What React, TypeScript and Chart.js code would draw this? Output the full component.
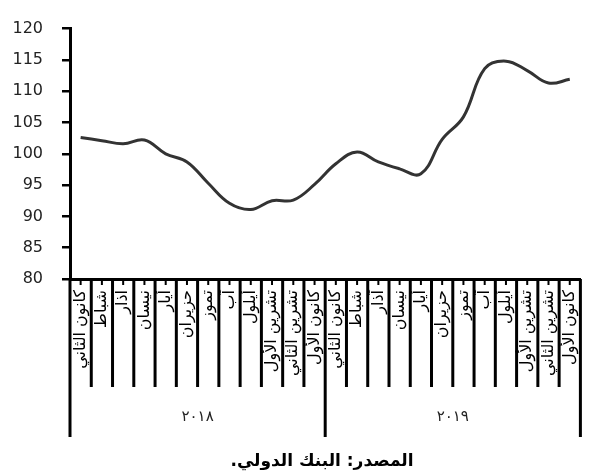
import React, { useEffect, useRef } from "react";
import { Chart, registerables } from "chart.js";

Chart.register(...registerables);

const months = [
  "كانون الثاني",
  "شباط",
  "آذار",
  "نيسان",
  "أيار",
  "حزيران",
  "تموز",
  "آب",
  "أيلول",
  "تشرين الأول",
  "تشرين الثاني",
  "كانون الأول",
];
const years = ["٢٠١٨", "٢٠١٩"];
const categories = [...months, ...months];
const values = [
  102.6, 102.1, 101.6, 102.2, 100.0, 98.7, 95.3, 92.1, 91.1, 92.5, 92.6, 95.1,
  98.4, 100.3, 98.7, 97.6, 96.8, 102.3, 105.9, 113.6, 114.8, 113.3, 111.3, 111.9,
];
const yMin = 80;
const yMax = 120;
const yStep = 5;
const sourceText = "المصدر: البنك الدولي.";

const decorPlugin = {
  id: "decor",
  afterDraw(chart: any) {
    const ctx = chart.ctx as CanvasRenderingContext2D;
    const xs = chart.scales.x;
    const bottom = chart.chartArea.bottom;
    const n = categories.length;
    const half = (xs.getPixelForTick(1) - xs.getPixelForTick(0)) / 2;
    ctx.save();
    ctx.strokeStyle = "#000";
    ctx.lineCap = "butt";
    for (let i = 0; i <= n; i++) {
      const x = i < n ? xs.getPixelForTick(i) - half : xs.getPixelForTick(n - 1) + half;
      const isYear = i % months.length === 0;
      ctx.lineWidth = 3;
      ctx.beginPath();
      ctx.moveTo(x, bottom);
      ctx.lineTo(x, bottom + (isYear ? 158 : 108));
      ctx.stroke();
    }
    ctx.lineWidth = 2;
    for (let i = 0; i < n; i++) {
      const x = xs.getPixelForTick(i);
      ctx.beginPath();
      ctx.moveTo(x, bottom);
      ctx.lineTo(x, bottom + 6);
      ctx.stroke();
    }
    ctx.fillStyle = "#222";
    ctx.textAlign = "center";
    ctx.textBaseline = "middle";
    ctx.font = '15px "DejaVu Sans"';
    years.forEach((y, g) => {
      const a = xs.getPixelForTick(g * months.length) - half;
      const b = xs.getPixelForTick(g * months.length + months.length - 1) + half;
      ctx.fillText(y, (a + b) / 2, bottom + 138);
    });
    ctx.fillStyle = "#000";
    (ctx as any).direction = "rtl";
    ctx.font = 'bold 17px "DejaVu Sans"';
    ctx.fillText(sourceText, 322, 462);
    ctx.restore();
  },
};

export default function App() {
  const ref = useRef<HTMLCanvasElement | null>(null);
  useEffect(() => {
    if (!ref.current) return;
    const chart = new Chart(ref.current, {
      type: "line",
      data: {
        labels: categories,
        datasets: [
          {
            data: values,
            borderColor: "#333333",
            borderWidth: 3,
            pointRadius: 0,
            tension: 0.4,
            fill: false,
          },
        ],
      },
      options: {
        responsive: false,
        animation: false,
        devicePixelRatio: 1,
        layout: { padding: { top: 18, right: 2, left: 0, bottom: 0 } },
        plugins: {
          legend: { display: false },
          tooltip: { enabled: false },
          title: { display: false },
        },
        scales: {
          x: {
            type: "category",
            offset: true,
            grid: { display: true, drawOnChartArea: false, drawTicks: false },
            border: { display: true, color: "#000", width: 3 },
            ticks: {
              autoSkip: false,
              minRotation: 90,
              maxRotation: 90,
              padding: 11,
              color: "#000",
              font: { family: "DejaVu Sans", size: 16 },
            },
            afterFit: (s: any) => {
              s.height = 196;
            },
          },
          y: {
            min: yMin,
            max: yMax,
            ticks: {
              stepSize: yStep,
              padding: 19,
              color: "#222",
              font: { family: "DejaVu Sans", size: 16 },
            },
            grid: {
              drawOnChartArea: false,
              drawTicks: true,
              tickLength: 8,
              color: "#000",
              lineWidth: 2.5,
            },
            border: { color: "#000", width: 3 },
            afterFit: (s: any) => {
              s.width = 70;
            },
          },
        },
      },
      plugins: [decorPlugin],
    });
    return () => chart.destroy();
  }, []);
  return (
    <div
      style={{
        position: "fixed",
        left: 0,
        top: 0,
        width: 595,
        height: 475,
        overflow: "hidden",
        background: "#fff",
      }}
    >
      <canvas ref={ref} width={600} height={475} style={{ display: "block" }} />
    </div>
  );
}
